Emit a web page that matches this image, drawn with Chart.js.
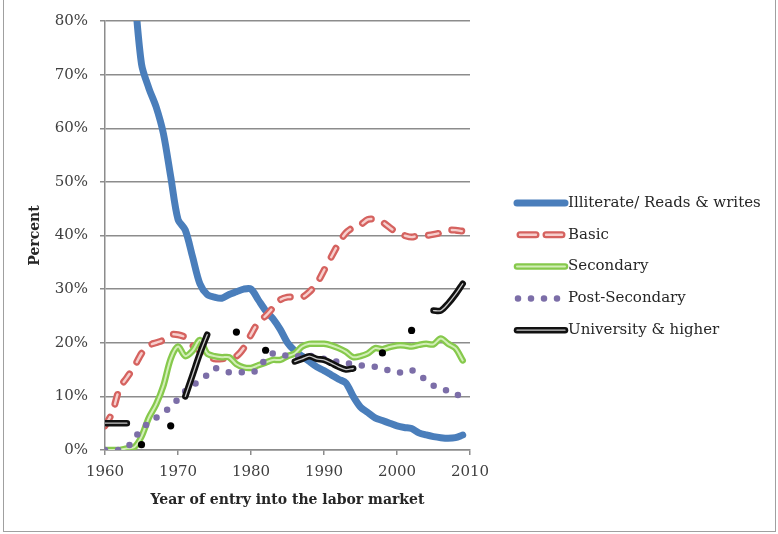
<!DOCTYPE html>
<html>
<head>
<meta charset="utf-8">
<script src="https://cdn.jsdelivr.net/npm/chart.js@4.4.1/dist/chart.umd.min.js"></script>
<style>
html,body{margin:0;padding:0;background:#fff;}
#wrap{position:relative;width:778px;height:534px;overflow:hidden;}
#frame{position:absolute;left:3px;top:-2px;width:773px;height:534px;border:1px solid #a0a0a0;box-sizing:border-box;pointer-events:none;}
</style>
</head>
<body>
<div id="wrap"><canvas id="c" width="778" height="534"></canvas><div id="frame"></div></div>
<script>
// ---- data ----
const years = [1960,1961,1962,1963,1964,1965,1966,1967,1968,1969,
               1970,1971,1972,1973,1974,1975,1976,1977,1978,1979,
               1980,1981,1982,1983,1984,1985,1986,1987,1988,1989,
               1990,1991,1992,1993,1994,1995,1996,1997,1998,1999,
               2000,2001,2002,2003,2004,2005,2006,2007,2008,2009];

const names = ['Illiterate/ Reads & writes','Basic','Secondary','Post-Secondary','University & higher'];

const illiterate = [null,null,null,null,86,72,67.5,64,59,51,
                    43,41,36,31,29,28.5,28.3,29,29.5,30,
                    30,28,26,24.5,22.5,20,18.5,17.5,16.5,15.5,
                    14.8,14,13.2,12.5,10,8,7,6,5.5,5,
                    4.5,4.2,4,3.2,2.8,2.5,2.3,2.2,2.3,2.8];

const basic = [4.5,7,11.5,13.5,15.5,18,19.5,20,20.5,21.5,
               21.5,21,19.5,18.5,17.5,17,17,17.3,17.5,19,
               21.5,23.8,25,26.5,28,28.5,28.5,28.5,29.5,31,
               33.5,36,38.5,40.5,41.5,42,43,43,42.5,41.5,
               40.5,40,39.7,40,40,40.2,40.5,41,41,40.8];

const secondary = [0,0,0,0.3,0.5,2.5,6,8.5,12,17,
                   19.3,17.5,18.5,20.5,18,17.5,17.3,17.3,16,15.4,
                   15.3,15.8,16.3,16.8,16.8,17.5,18,19.3,19.8,19.8,
                   19.8,19.5,19,18.3,17.3,17.5,18,19,18.8,19.2,
                   19.5,19.5,19.3,19.6,19.8,19.7,20.8,19.8,19,16.7];

const postSecondary = [0,0,0,0.5,2,4,5,6,7,8,
                       9.5,11,12,13,14,15.2,15,14.5,14.5,14.5,
                       14.5,15,17,18,18,17.5,17.5,17.5,17.5,17.5,
                       17,16.5,16.5,16.2,16,15.8,15.5,15.5,15.2,14.8,
                       14.5,14.5,14.9,14,13,12,11.5,11,10.4,10];

const university = [5,5,5,5,null,1,null,null,null,4.5,
                    null,10,14,18,21.5,null,null,null,22,null,
                    null,null,18.6,null,null,null,16.5,17,17.5,17,
                    16.8,16.2,15.5,15,15.2,null,null,null,18.1,null,
                    null,null,22.3,null,null,26,26,27.3,29,31];

const yTicksMax = 80;
const yTickStep = 10;
const xTitle = 'Year of entry into the labor market';
const yTitle = 'Percent';

// ---- styling ----
const SERIF = "'DejaVu Serif', 'Liberation Serif', serif";
const GRID = '#8c8c8c';

function isolated(arr, i) {
  if (arr[i] === null || arr[i] === undefined) return false;
  const prev = i > 0 ? arr[i-1] : null;
  const next = i < arr.length - 1 ? arr[i+1] : null;
  return (prev === null || prev === undefined) && (next === null || next === undefined);
}

const base = {pointRadius: 0, pointHoverRadius: 0, tension: 0.3, fill: false, borderJoinStyle: 'round'};

const datasets = [
  Object.assign({}, base, {label: names[0], data: illiterate, borderColor: '#4a7ebb', borderWidth: 7, borderCapStyle: 'round', order: 10}),
  Object.assign({}, base, {label: names[1], data: basic, borderColor: '#d5625f', borderWidth: 7, borderDash: [10,14], borderCapStyle: 'round', order: 8}),
  Object.assign({}, base, {label: '', inner: true, data: basic, borderColor: '#f7cfcd', borderWidth: 2.4, borderDash: [10,14], borderCapStyle: 'round', order: 7}),
  Object.assign({}, base, {label: names[2], data: secondary, borderColor: '#86c94c', borderWidth: 6.5, borderCapStyle: 'round', order: 6}),
  Object.assign({}, base, {label: '', inner: true, data: secondary, borderColor: '#d3efb8', borderWidth: 2, borderCapStyle: 'round', order: 5}),
  Object.assign({}, base, {label: names[3], data: postSecondary, borderColor: '#7c6ea8', borderWidth: 6.5, borderDash: [0,13], borderCapStyle: 'round', order: 4}),
  Object.assign({}, base, {label: names[4], data: university, borderColor: '#111111', borderWidth: 6.5, borderCapStyle: 'round', order: 2,
     pointRadius: (c) => isolated(university, c.dataIndex) ? 3.6 : 0,
     pointHoverRadius: (c) => isolated(university, c.dataIndex) ? 3.6 : 0,
     pointBackgroundColor: '#000', pointBorderWidth: 0}),
  Object.assign({}, base, {label: '', inner: true, data: university, borderColor: '#c8c8c8', borderWidth: 1.3, borderCapStyle: 'round', order: 1})
];

// legend samples: [main dataset index, inner dataset index or -1]
const legendMap = [[0,-1],[1,2],[3,4],[5,-1],[6,7]];

const sideLegend = {
  id: 'sideLegend',
  afterDraw(chart) {
    const ctx = chart.ctx;
    const x0 = 517, x1 = 565, y0 = 203, dy = 31.8;
    ctx.save();
    legendMap.forEach((pair, i) => {
      const y = y0 + i * dy;
      pair.forEach((di) => {
        if (di < 0) return;
        const ds = chart.data.datasets[di];
        ctx.beginPath();
        ctx.strokeStyle = ds.borderColor;
        ctx.lineWidth = ds.borderWidth;
        ctx.lineCap = ds.borderCapStyle || 'butt';
        let dash = ds.borderDash || [];
        if (i === 1) dash = [16, 10];
        ctx.setLineDash(dash);
        ctx.lineDashOffset = 0;
        const sx = (i === 1) ? x0 + 3 : (i === 3 ? x0 + 1 : x0);
        ctx.moveTo(sx, y);
        ctx.lineTo(x1, y);
        ctx.stroke();
      });
      ctx.setLineDash([]);
      ctx.fillStyle = '#262626';
      ctx.font = "15px " + SERIF;
      ctx.textAlign = 'left';
      ctx.textBaseline = 'middle';
      ctx.fillText(names[i], 568, y);
    });
    ctx.restore();
  }
};

new Chart(document.getElementById('c'), {
  type: 'line',
  data: {labels: years, datasets: datasets},
  options: {
    responsive: false,
    animation: false,
    events: [],
    layout: {padding: {left: 0, top: 20, right: 308, bottom: 0}},
    plugins: {legend: {display: false}, tooltip: {enabled: false}},
    scales: {
      x: {
        type: 'linear', min: 1960, max: 2010,
        afterFit: (s) => { s.height = 84; },
        ticks: {stepSize: 10, autoSkip: false, maxRotation: 0, padding: 8,
                callback: (v) => String(v),
                font: {family: SERIF, size: 15}, color: '#404040'},
        grid: {drawOnChartArea: false, drawTicks: true, tickLength: 5, color: GRID, lineWidth: 1.5},
        border: {display: true, color: GRID, width: 1.5},
        title: {display: true, text: xTitle, color: '#262626',
                font: {family: SERIF, size: 14, weight: 'bold'}, padding: {top: 0, bottom: 25}}
      },
      y: {
        min: 0, max: yTicksMax,
        afterFit: (s) => { s.width = 105; },
        ticks: {stepSize: yTickStep, padding: 12, callback: (v) => v + '%',
                font: {family: SERIF, size: 15}, color: '#404040'},
        grid: {color: GRID, lineWidth: 1.5, tickLength: 5, drawTicks: true},
        border: {display: true, color: GRID, width: 1.5},
        title: {display: true, text: yTitle, color: '#262626',
                font: {family: SERIF, size: 14, weight: 'bold'}, padding: {top: 27, bottom: 0}}
      }
    }
  },
  plugins: [sideLegend]
});
</script>
</body>
</html>
